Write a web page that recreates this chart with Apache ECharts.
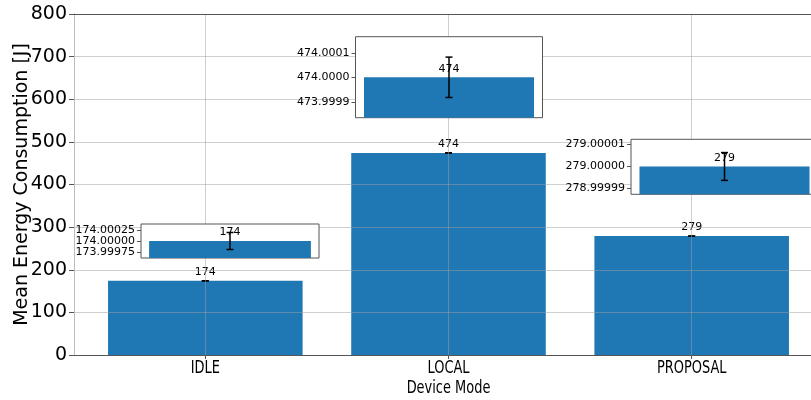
<!DOCTYPE html>
<html>
<head>
<meta charset="utf-8">
<script src="https://cdn.jsdelivr.net/npm/echarts@6/dist/echarts.min.js"></script>
<style>
  html, body { margin: 0; padding: 0; background: #fff; }
  #chart { width: 811px; height: 400px; }
</style>
</head>
<body>
<div id="chart"></div>
<script>
// Mean energy per device mode, with standard deviation
const categories = ['IDLE', 'LOCAL', 'PROPOSAL'];
const meanEnergy = [174, 474, 279];
const stdEnergy = [0.000193, 0.0000824, 0.0000063];

// Zoomed inset axes: tick values and visible value ranges
const insetTicks = [
  [173.99975, 174.00000, 174.00025],
  [473.9999, 474.0000, 474.0001],
  [278.99999, 279.00000, 279.00001]
];
const insetRange = [
  [173.999614, 174.000386],
  [473.999835, 474.0001657],
  [278.9999874, 279.0000123]
];
const insetDecimals = [5, 4, 5];

// Layout (pixels)
const MAIN = { left: 74, top: 14, width: 749, height: 341 };
const X_MIN = -0.54, X_MAX = 2.54;
const INSETS = [
  { left: 141, top: 224, width: 178, height: 34 },
  { left: 355.5, top: 36.7, width: 187, height: 81 },
  { left: 631, top: 139.3, width: 187, height: 55 }
];
const INSET_X = [-0.44, 0.44];
const BAR_BLUE = '#1f77b4';
const FONT = 'DejaVu Sans';
const NARROW = 'DejaVu Sans Condensed';
const NARROW_SCALE = 0.8;

function errorBarItem(params, api) {
  const x = api.value(0);
  const pLo = api.coord([x, api.value(1)]);
  const pHi = api.coord([x, api.value(2)]);
  const cap = 3.5;
  const style = { stroke: '#000', lineWidth: 1.5 };
  return {
    type: 'group',
    children: [
      { type: 'line', shape: { x1: pLo[0], y1: pLo[1], x2: pHi[0], y2: pHi[1] }, style: style },
      { type: 'line', shape: { x1: pLo[0] - cap, y1: pLo[1], x2: pLo[0] + cap, y2: pLo[1] }, style: style },
      { type: 'line', shape: { x1: pHi[0] - cap, y1: pHi[1], x2: pHi[0] + cap, y2: pHi[1] }, style: style }
    ]
  };
}

const chart = echarts.init(document.getElementById('chart'), null, { renderer: 'canvas' });

const grids = [{
  left: MAIN.left, top: MAIN.top, width: MAIN.width, height: MAIN.height,
  containLabel: false, outerBoundsMode: 'none', show: false
}];
const xAxes = [
  {
    type: 'value', gridIndex: 0, min: X_MIN, max: X_MAX, z: 3,
    axisLine: { show: true, onZero: false, lineStyle: { color: '#555', width: 1 } },
    axisTick: { show: true, length: 4, customValues: [0, 1, 2], lineStyle: { color: '#555' } },
    axisLabel: { show: false, customValues: [0, 1, 2] },
    splitLine: { show: true, lineStyle: { color: 'rgba(160,160,160,0.5)', width: 1 } }
  }
];
const yAxes = [{
  type: 'value', gridIndex: 0, min: 0, max: 800, interval: 100, z: 3,
  name: 'Mean Energy Consumption [J]', nameLocation: 'middle', nameGap: 42, nameMoveOverlap: false,
  nameTextStyle: { fontFamily: FONT, fontSize: 19, color: '#000' },
  axisLine: { show: true, onZero: false, lineStyle: { color: '#bdbdbd', width: 1 } },
  axisTick: { show: true, length: 5, lineStyle: { color: '#555' } },
  axisLabel: { margin: 7, fontFamily: FONT, fontSize: 19, color: '#000' },
  splitLine: { show: true, lineStyle: { color: 'rgba(160,160,160,0.5)', width: 1 } }
}];

const mainBarWidth = 0.8 * MAIN.width / (X_MAX - X_MIN);
const series = [
  {
    type: 'bar', xAxisIndex: 0, yAxisIndex: 0, z: 2,
    data: meanEnergy.map((v, i) => [i, v]),
    barWidth: mainBarWidth,
    itemStyle: { color: BAR_BLUE },
    label: { show: true, position: 'top', distance: 3, fontFamily: FONT, fontSize: 11, color: '#000',
      formatter: p => String(p.value[1]) }
  },
  {
    type: 'custom', xAxisIndex: 0, yAxisIndex: 0, z: 2.5,
    renderItem: errorBarItem,
    encode: { x: 0, y: [1, 2] },
    data: meanEnergy.map((v, i) => [i, v - stdEnergy[i], v + stdEnergy[i]])
  }
];

INSETS.forEach((box, i) => {
  const gi = grids.length;
  grids.push({
    left: box.left, top: box.top, width: box.width, height: box.height,
    containLabel: false, outerBoundsMode: 'none',
    show: true, backgroundColor: '#fff', borderColor: '#555', borderWidth: 1, z: 5
  });
  const xi = xAxes.length;
  xAxes.push({
    type: 'value', gridIndex: gi, min: INSET_X[0], max: INSET_X[1], z: 6,
    axisLine: { show: false, onZero: false }, axisTick: { show: false }, axisLabel: { show: false }, splitLine: { show: false }
  });
  const yi = yAxes.length;
  yAxes.push({
    type: 'value', gridIndex: gi, min: insetRange[i][0], max: insetRange[i][1], z: 6,
    axisLine: { show: false, onZero: false },
    axisTick: { show: true, length: 4, customValues: insetTicks[i], lineStyle: { color: '#555' } },
    axisLabel: {
      customValues: insetTicks[i], margin: 6,
      formatter: v => v.toFixed(insetDecimals[i]),
      fontFamily: FONT, fontSize: 11, color: '#000'
    },
    splitLine: { show: false }
  });
  series.push({
    type: 'bar', xAxisIndex: xi, yAxisIndex: yi, z: 7,
    data: [[0, meanEnergy[i]]],
    barWidth: 0.8 * box.width / (INSET_X[1] - INSET_X[0]),
    itemStyle: { color: BAR_BLUE },
    label: { show: true, position: 'top', distance: 3, fontFamily: FONT, fontSize: 11, color: '#000',
      formatter: p => String(p.value[1]) }
  });
  series.push({
    type: 'custom', xAxisIndex: xi, yAxisIndex: yi, z: 8,
    renderItem: errorBarItem,
    encode: { x: 0, y: [1, 2] },
    data: [[0, meanEnergy[i] - stdEnergy[i], meanEnergy[i] + stdEnergy[i]]]
  });
});

// top spine of the main plot
xAxes.push({
  type: 'value', gridIndex: 0, position: 'top', min: X_MIN, max: X_MAX, z: 3,
  axisLine: { show: true, onZero: false, lineStyle: { color: '#555', width: 1 } },
  axisTick: { show: false }, axisLabel: { show: false }, splitLine: { show: false }
});

chart.setOption({
  animation: false,
  backgroundColor: '#fff',
  grid: grids,
  xAxis: xAxes,
  yAxis: yAxes,
  series: series
});

// Category labels and axis title in a narrow face, placed at the axis tick positions
const axisBottom = chart.convertToPixel({ gridIndex: 0 }, [0, 0])[1];
const narrowText = (text, x, y) => ({
  type: 'text', x: x, y: y, scaleX: NARROW_SCALE, z: 10,
  style: { text: text, fontFamily: NARROW, fontSize: 18, fill: '#000', align: 'center', verticalAlign: 'middle' }
});
const labelGraphics = categories.map((c, i) => {
  const px = chart.convertToPixel({ xAxisIndex: 0 }, i);
  return narrowText(c, px, axisBottom + 13);
});
const centerX = chart.convertToPixel({ xAxisIndex: 0 }, 1);
labelGraphics.push(narrowText('Device Mode', centerX, axisBottom + 33));
chart.setOption({ graphic: labelGraphics });
</script>
</body>
</html>
